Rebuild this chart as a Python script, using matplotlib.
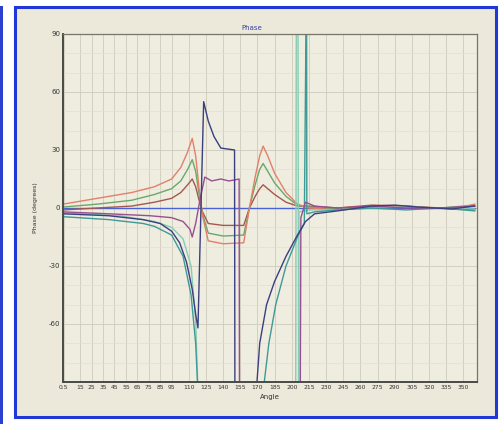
import matplotlib.pyplot as plt
from matplotlib.patches import Rectangle

# --- data (angle in deg, phase in deg) ---
x_ticks = [0.5, 15, 25, 35, 45, 55, 65, 75, 85, 95, 110, 125, 140, 155, 170,
           185, 200, 215, 230, 245, 260, 275, 290, 305, 320, 335, 350]
y_ticks = [-60, -30, 0, 30, 60, 90]

# values of +-95 lie outside the axes, so those stretches stay hidden
red_ang = [0, 30, 60, 80, 95, 103, 109, 113, 116, 119, 122, 127, 140, 158, 163,
           168, 172, 175, 179, 185, 195, 205, 215, 240, 260, 280, 300, 320, 345, 360]
red_val = [2, 5, 8, 11, 15, 21, 29, 36, 27, 10, -4, -17, -18.5, -18, 0,
           16, 27, 32, 27, 18, 8, 2, 0, -1, 0, 1, 1, 0, 0, 2]

green_ang = [0, 30, 60, 80, 95, 103, 109, 113, 116, 119, 122, 127, 140, 158, 163,
             168, 172, 175, 179, 185, 195, 205, 215, 240, 270, 300, 330, 360]
green_val = [0.5, 2, 4, 7, 10, 14, 20, 25, 19, 7, -3, -13, -14.5, -14, 0,
             12, 20, 23, 19, 13, 6, 1.5, 0.5, -0.5, 0.5, 0.5, 0, 1.5]

brown_ang = [0, 30, 60, 80, 95, 103, 109, 113, 116, 119, 122, 127, 140, 158, 163,
             168, 172, 175, 179, 185, 195, 205, 215, 240, 270, 300, 330, 360]
brown_val = [-1, 0, 1, 3, 5, 8, 12, 15, 11, 4, -2, -8, -9, -9, 0,
             6, 10, 12, 10, 7, 3, 1, 1, 0, 1.5, 1, 0, -1]

navy_ang = [0, 40, 70, 85, 95, 102, 108, 113, 116, 118, 123, 127, 132, 138,
            150, 150.3, 169, 172, 178, 185, 195, 205, 212, 220, 240, 270, 290,
            310, 340, 360]
navy_val = [-3, -4, -6, -8, -12, -18, -28, -42, -55, -62, 55, 45, 37, 31,
            30, -95, -95, -70, -50, -38, -25, -14, -7, -3, -1.5, 1, 1.5,
            0.5, -0.5, 1]

purple_ang = [0, 40, 76, 95, 105, 111, 113, 116, 120, 124, 130, 138, 145, 150,
              154, 154.3, 207.5, 208, 212, 220, 240, 270, 300, 330, 360]
purple_val = [-2, -3, -4, -5, -7, -11, -15, -8, 5, 16, 14, 15, 14, 14.5,
              15, -95, -95, -5, 3, 1, 0, 1, 0, 0, 1]

teal_ang = [0, 40, 70, 80, 95, 105, 112, 116, 118, 175, 180, 186, 195, 205,
            211, 212.5, 213, 213.2, 220, 240, 270, 300, 330, 360]
teal_val = [-4.5, -6, -8, -9.5, -14, -25, -45, -70, -95, -95, -70, -50, -30,
            -15, -8, 95, 95, -3, -2, -1, 0, -1, 0, -1.5]

sea_ang = [0, 50, 80, 95, 105, 112, 116, 118, 203.5, 204, 205.5, 206, 206.3,
           215, 240, 270, 300, 330, 360]
sea_val = [-2.5, -4, -7, -10, -16, -30, -58, -95, -95, 95, 95, -95, -2,
           -1, -1, 0, 0.5, 0, -0.5]

zero_ang = [0, 360]
zero_val = [0, 0]

# --- figure ---
fig = plt.figure(figsize=(5.02, 4.24), dpi=100)
fig.patch.set_facecolor('white')

# window frame (behind the axes)
fig.patches.append(Rectangle((0.0, 0.0), 0.005, 0.985, transform=fig.transFigure,
                             facecolor='#2b3fd0', edgecolor='none', zorder=-5))
fig.patches.append(Rectangle((15 / 502, 7 / 424), 481 / 502, 410 / 424,
                             transform=fig.transFigure, facecolor='#ece8da',
                             edgecolor='#2238d6', linewidth=2.2, zorder=-5))

ax = fig.add_axes([63 / 502, 42 / 424, 414 / 502, 348 / 424])
ax.set_facecolor('#efece0')

lw = 1.0
ax.plot(zero_ang, zero_val, color='#4a62d8', lw=lw)
ax.plot(brown_ang, brown_val, color='#a4584e', lw=lw)
ax.plot(green_ang, green_val, color='#6aa86a', lw=lw)
ax.plot(red_ang, red_val, color='#e2806a', lw=lw)
ax.plot(sea_ang, sea_val, color='#86cdb4', lw=lw)
ax.plot(teal_ang, teal_val, color='#3e9a96', lw=lw)
ax.plot(purple_ang, purple_val, color='#9a4e92', lw=lw)
ax.plot(navy_ang, navy_val, color='#3a3f80', lw=lw)

ax.set_xlim(0, 362)
ax.set_ylim(-90, 90)
ax.set_xticks(x_ticks)
ax.set_xticklabels([str(t) for t in x_ticks], fontsize=4.3, color='#333333')
ax.set_yticks(y_ticks)
ax.set_yticklabels([str(t) for t in y_ticks], fontsize=5, color='#333333')
ax.set_yticks(range(-80, 90, 10), minor=True)
ax.tick_params(length=0, pad=2)
ax.tick_params(which='minor', length=0)

ax.grid(True, which='major', color='#cfcbbc', lw=0.6)
ax.grid(True, which='minor', axis='y', color='#e2dfd3', lw=0.5)

for side in ['top', 'right']:
    ax.spines[side].set_color('#77746a')
    ax.spines[side].set_linewidth(0.9)
for side in ['left', 'bottom']:
    ax.spines[side].set_color('#4a4a44')
    ax.spines[side].set_linewidth(1.4)

fig.text(252 / 502, 1 - 28 / 424, 'Phase', fontsize=5, color='#3a3fa0',
         ha='center', va='center')
ax.set_xlabel('Angle', fontsize=5, color='#333333', labelpad=3)
ax.set_ylabel('Phase (degrees)', fontsize=4.5, color='#333333', labelpad=8)

fig.savefig('out.png', dpi=100)
